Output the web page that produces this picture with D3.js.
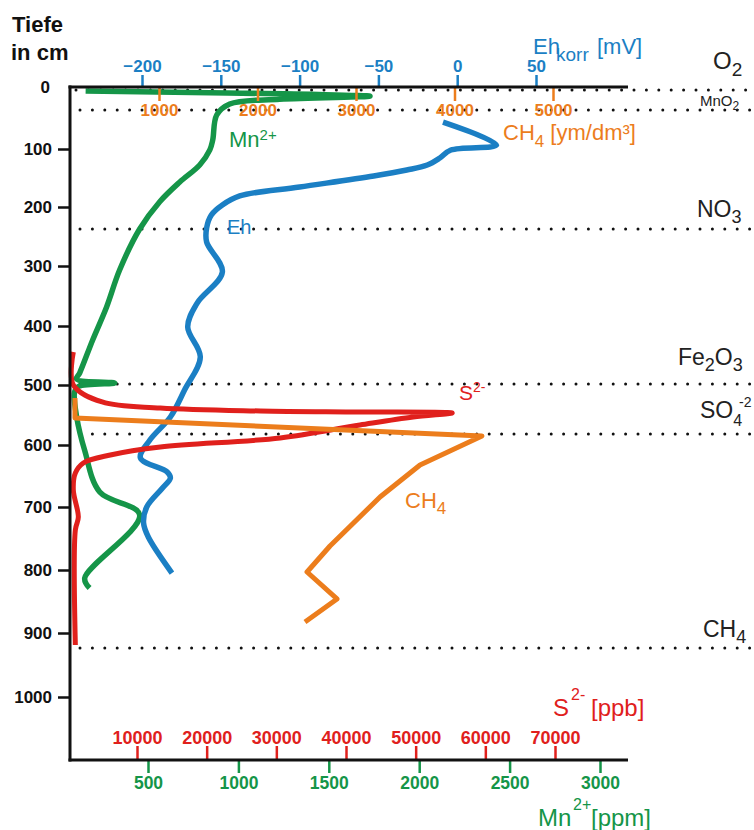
<!DOCTYPE html>
<html><head><meta charset="utf-8">
<script src="https://cdn.jsdelivr.net/npm/d3@7"></script>
<style>body{margin:0;background:#fff}svg{display:block;font-family:"Liberation Sans",Arial,sans-serif}</style>
</head><body><svg id="c" width="754" height="830"></svg>
<script>
// ---------- data ----------
const depthTicks = [0,100,200,300,400,500,600,700,800,900,1000];
const ehTicks = [-200,-150,-100,-50,0,50];
const ch4Ticks = [1000,2000,3000,4000,5000];
const s2Ticks = [10000,20000,30000,40000,50000,60000,70000];
const mnTicks = [500,1000,1500,2000,2500,3000];

const mnDepth = [6.5,14.8,19.7,27.4,45.2,85.5,101.4,127.6,156.9,190.9,237.3,306.7,368.3,423.7,479.7,489.8,496.6,502.5,511.7,552.3,609,675.8,712.7,812.7,828.6];
const mnPpm   = [155,1728,1229,952,880,858,842,786,676,565,454,343,271,194,122,105,316,115,94,105,150,233,454,150,177];

const ehDepth = [56.5,93.5,101.7,115.5,127.6,136.2,146.6,165.5,181,196.6,213.6,235.6,259.3,310,361.7,401.7,452.5,508.3,553.3,591.7,621,643.5,653.2,669.4,700,725.4,747.6,804.8];
const ehMv    = [-9,25,-4,-11,-19,-32,-53,-100,-138,-149,-156,-159,-159,-149,-165,-171,-163,-173,-182,-195,-201,-184,-182,-187,-197,-199,-196,-181];

const s2Depth = [444.1,500,528.3,538.3,543.3,545,546.7,553.3,566.7,588.3,603.2,616.1,629,645.2,672.6,715.9,736.5,918.8];
const s2Ppb   = [860,860,5000,13350,27700,42000,55250,49650,42000,30560,13350,6170,2300,1150,860,1580,1150,1150];

const ch4Depth = [521.7,555,585,632.3,683.9,761.9,803.2,846,882.5];
const ch4Val   = [147,147,4279,3650,3244,2736,2503,2807,2482];

const zoneNames  = ["O2","MnO2","NO3","Fe2O3","SO4","CH4"];
const zoneDepths = [4.8,37,237.3,498.3,581.7,923.4];

// ---------- colours ----------
const BLUE="#1b7fc4", ORANGE="#ec7d1c", RED="#e0201c", GREEN="#159548", INK="#111";

const svg = d3.select("#c");
// the printed depth axis is slightly uneven; piecewise scale follows its ticks
const y = d3.scaleLinear().domain(depthTicks).range([87,149,207,266,326,385,445,507,570,633,697]);
const xEh = d3.scaleLinear().domain([-200,50]).range([142,536]);
const xCH4 = d3.scaleLinear().domain([1000,5000]).range([159,553]);
const xS2 = d3.scaleLinear().domain([10000,70000]).range([137,555]);
const xMn = d3.scaleLinear().domain([500,3000]).range([148,600]);

// dotted zone lines
zoneDepths.forEach((d,i)=>{
  svg.append("line").attr("x1", i===0?76:80).attr("x2",754)
    .attr("y1",y(d)).attr("y2",y(d))
    .attr("stroke","#111").attr("stroke-width",3)
    .attr("stroke-linecap","round").attr("stroke-dasharray","0,12.4");
});

// curves
function curve(depths, vals, sx, color, w, cv){
  const pts = depths.map((d,i)=>[sx(vals[i]), y(d)]);
  svg.append("path").attr("d", d3.line().curve(cv||d3.curveLinear)(pts))
    .attr("fill","none").attr("stroke",color).attr("stroke-width",w)
    .attr("stroke-linejoin","round").attr("stroke-linecap","butt");
}
curve(mnDepth, mnPpm, xMn, GREEN, 5.5, d3.curveCatmullRom.alpha(0.5));
curve(ehDepth, ehMv, xEh, BLUE, 5.5, d3.curveCatmullRom.alpha(0.5));
curve(s2Depth, s2Ppb, xS2, RED, 5, d3.curveCatmullRom.alpha(0.5));
curve(ch4Depth, ch4Val, xCH4, ORANGE, 5, d3.curveLinear);

// axes
const fmt = d3.format("d");
function styleAxis(g, color, size){
  g.select(".domain").remove();
  g.selectAll(".tick line").attr("stroke",color).attr("stroke-width",2.5);
  g.selectAll(".tick text").attr("fill",color).attr("font-size",size)
    .attr("font-weight","bold").attr("font-family","Liberation Sans, Arial, sans-serif");
}
const gEh = svg.append("g").attr("transform","translate(0,87)")
  .call(d3.axisTop(xEh).tickValues(ehTicks).tickFormat(fmt).tickSize(12).tickPadding(3));
styleAxis(gEh, BLUE, 17);
const gCH4 = svg.append("g").attr("transform","translate(0,87)")
  .call(d3.axisBottom(xCH4).tickValues(ch4Ticks).tickFormat(fmt).tickSize(14).tickPadding(3));
styleAxis(gCH4, ORANGE, 17);
const gS2 = svg.append("g").attr("transform","translate(0,760)")
  .call(d3.axisTop(xS2).tickValues(s2Ticks).tickFormat(fmt).tickSize(14).tickPadding(2));
styleAxis(gS2, RED, 18);
const gMn = svg.append("g").attr("transform","translate(0,760)")
  .call(d3.axisBottom(xMn).tickValues(mnTicks).tickFormat(fmt).tickSize(13).tickPadding(4));
styleAxis(gMn, GREEN, 17.5);
const gY = svg.append("g").attr("transform","translate(70,0)")
  .call(d3.axisLeft(y).tickValues(depthTicks).tickFormat(fmt).tickSize(12).tickPadding(6));
styleAxis(gY, INK, 17);
gY.selectAll(".tick").filter(d=>d===0).select("line").remove();
gY.selectAll(".tick").filter(d=>d===0).select("text").attr("x",-20);

// frame
svg.append("line").attr("x1",70).attr("x2",70).attr("y1",85.5).attr("y2",761.5).attr("stroke",INK).attr("stroke-width",3);
svg.append("line").attr("x1",68.5).attr("x2",628).attr("y1",87).attr("y2",87).attr("stroke",INK).attr("stroke-width",3);
svg.append("line").attr("x1",68.5).attr("x2",628).attr("y1",760).attr("y2",760).attr("stroke",INK).attr("stroke-width",3);

// rich text helper
function rich(x, yy, size, color, parts, weight){
  const t = svg.append("text").attr("x",x).attr("y",yy).attr("font-size",size)
    .attr("fill",color).attr("font-weight",weight||"normal");
  let cur = 0;
  parts.forEach(p=>{
    const s = p.s||0;
    const ts = t.append("tspan").text(p.t).attr("dy", s-cur);
    if(p.z) ts.attr("font-size",p.z);
    if(p.x!=null) ts.attr("x",p.x);
    cur = s;
  });
  return t;
}

// left title
rich(12, 32, 22, INK, [{t:"Tiefe"}], "bold");
rich(11, 60, 22, INK, [{t:"in cm"}], "bold");

// axis titles
rich(533, 54, 22, BLUE, [{t:"Eh",x:533},{t:"korr",z:19,s:7,x:556},{t:"[mV]",x:597}]);
rich(503, 140, 22, ORANGE, [{t:"CH"},{t:"4",z:17,s:7},{t:" [ym/dm",s:0},{t:"³"},{t:"]"}]);
rich(553, 716, 24, RED, [{t:"S"},{t:"2-",z:16,s:-16,x:571},{t:"[ppb]",s:0,x:591}]);
rich(538, 826, 24, GREEN, [{t:"Mn"},{t:"2+",z:16,s:-16,x:573},{t:"[ppm]",s:0,x:591}]);

// curve labels
rich(229, 147, 22, GREEN, [{t:"Mn"},{t:"2+",z:15,s:-7}]);
rich(227, 234, 20, BLUE, [{t:"Eh"}]);
rich(459, 400, 21, RED, [{t:"S"},{t:"2-",z:14,s:-8}]);
rich(405, 508, 22, ORANGE, [{t:"CH"},{t:"4",z:17,s:6}]);

// zone labels
rich(713, 69, 24, "#222", [{t:"O"},{t:"2",z:19,s:7}]);
rich(700, 106, 15, "#222", [{t:"MnO"},{t:"2",z:12,s:4}]);
rich(697, 217, 23, "#222", [{t:"NO"},{t:"3",z:18,s:6}]);
rich(678, 365, 23, "#222", [{t:"Fe"},{t:"2",z:18,s:6},{t:"O",s:0},{t:"3",z:18,s:6}]);
rich(700, 418, 23, "#222", [{t:"SO"},{t:"4",z:16,s:8},{t:"-2",z:14,s:-11,x:739}]);
rich(703, 637, 23, "#222", [{t:"CH"},{t:"4",z:18,s:6}]);
</script></body></html>
